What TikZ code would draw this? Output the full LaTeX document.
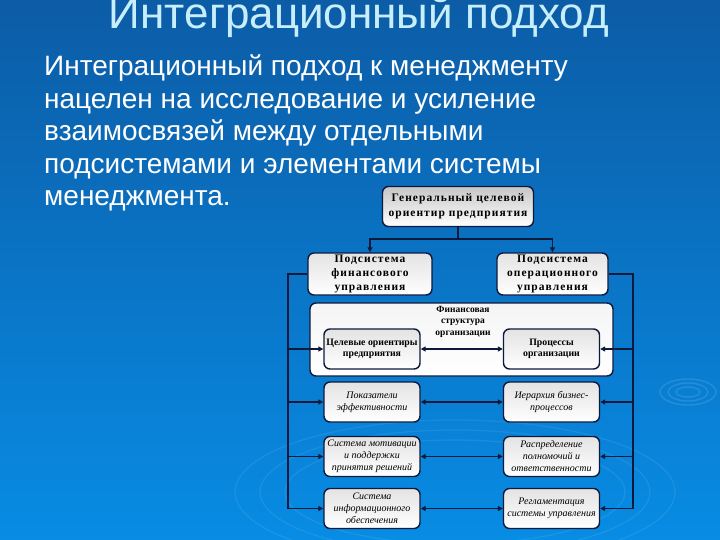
\documentclass[tikz,border=0pt]{standalone}
\usepackage{fontspec}
\setmainfont{Liberation Sans}
\newfontfamily\serifbox{Liberation Serif}
\newfontfamily\serifwide[LetterSpace=9]{Liberation Serif}
\usetikzlibrary{arrows.meta}
\definecolor{bgtop}{RGB}{12,92,166}
\definecolor{bgbot}{RGB}{8,140,228}
\definecolor{titlec}{RGB}{198,238,252}
\definecolor{navy}{RGB}{14,26,60}
\begin{document}
\begin{tikzpicture}[x=1pt,y=-1pt,
  box/.style={draw=navy, line width=1.4pt, rounded corners=6pt, top color=gray!22, bottom color=white,
    align=center, inner sep=0pt, text=black},
  colL/.style={box, minimum width=96pt, minimum height=40pt},
  bld/.style={font=\serifbox\bfseries\fontsize{9.8}{11.5}\selectfont},
  itl/.style={font=\serifbox\itshape\fontsize{10}{12}\selectfont},
  sub/.style={font=\serifwide\bfseries\fontsize{11.5}{14}\selectfont},
  conn/.style={draw=navy, line width=1.5pt},
  arr/.style={conn, -{Triangle[length=5pt,width=5pt]}},
  dbl/.style={conn, {Triangle[length=5pt,width=5pt]}-{Triangle[length=5pt,width=5pt]}},
  ripple/.style={draw=white, opacity=0.08, line width=1.3pt},
  bodytext/.style={anchor=base west, text=white, inner sep=0pt, font=\fontsize{28}{32}\selectfont}
]
\clip (0,0) rectangle (720,540);
\useasboundingbox (0,0) rectangle (720,540);
\shade[top color=bgtop, bottom color=bgbot] (0,0) rectangle (720,540);
% ripples
\foreach \rx/\ry in {28/13,20/9,12/5} \draw[ripple, opacity=0.12] (688,392) ellipse [x radius=\rx, y radius=\ry];
\foreach \rx/\ry in {220/72,195/62,170/52} \draw[ripple] (455,492) ellipse [x radius=\rx, y radius=\ry];
% title and text
\node[anchor=base, text=titlec, inner sep=0pt, font=\fontsize{44}{48}\selectfont] (title) at (359,28.5) {Интеграционный подход};
\node[bodytext] (b1) at (44,76) {Интеграционный подход к менеджменту};
\node[bodytext] (b2) at (44,108.5) {нацелен на исследование и усиление};
\node[bodytext] (b3) at (44,141) {взаимосвязей между отдельными};
\node[bodytext] (b4) at (44,173.5) {подсистемами и элементами системы};
\node[bodytext] (b5) at (44,206) {менеджмента.};
% boxes
\node[box, top color=gray!45, minimum width=151pt, minimum height=40pt, font=\serifwide\bfseries\fontsize{11.5}{15}\selectfont] (gen) at (458,206.5) {Генеральный целевой\\ориентир предприятия};
\node[box, sub, minimum width=124pt, minimum height=42pt] (fin) at (370,274) {Подсистема\\финансового\\управления};
\node[box, sub, minimum width=111pt, minimum height=42pt] (oper) at (552.5,274) {Подсистема\\операционного\\управления};
\node[box, top color=gray!8, minimum width=303pt, minimum height=73pt] (fs) at (461.5,339.5) {};
\node[inner sep=0pt, align=center, text=black, font=\serifbox\bfseries\fontsize{9.5}{11.5}\selectfont] (fst) at (463,321.5) {Финансовая\\структура\\организации};
\node[colL, bld] (cel) at (372,349) {Целевые ориентиры\\предприятия};
\node[colL, bld] (proc) at (551.5,349) {Процессы\\организации};
\node[colL, itl] (pok) at (372,402) {Показатели\\эффективности};
\node[colL, itl] (ier) at (551.5,402) {Иерархия бизнес-\\процессов};
\node[colL, itl] (mot) at (372,456.5) {Система мотивации\\и поддержки\\принятия решений};
\node[colL, itl] (rasp) at (551.5,456.5) {Распределение\\полномочий и\\ответственности};
\node[colL, itl] (inf) at (372,508.5) {Система\\информационного\\обеспечения};
\node[colL, itl] (regl) at (551.5,508.5) {Регламентация\\системы управления};
% connectors
\coordinate (ja) at (458,239);
\coordinate (bl) at (288,274);
\coordinate (br) at (633,274);
\coordinate (blend) at (288,509);
\coordinate (brend) at (633,509);
\draw[conn] (gen.south) -- (ja);
\draw[arr] (ja) -| (fin.north);
\draw[arr] (ja) -| (oper.north);
\draw[conn] (fin.west) -- (bl) -- (blend);
\draw[conn] (oper.east) -- (br) -- (brend);
\foreach \b in {cel,pok,mot,inf} \draw[arr] (bl |- \b.west) -- (\b.west);
\foreach \b in {proc,ier,rasp,regl} \draw[arr] (br |- \b.east) -- (\b.east);
\draw[dbl] (cel.east) -- (proc.west);
\draw[dbl] (pok.east) -- (ier.west);
\draw[dbl] (mot.east) -- (rasp.west);
\draw[dbl] (inf.east) -- (regl.west);
\end{tikzpicture}
\end{document}
